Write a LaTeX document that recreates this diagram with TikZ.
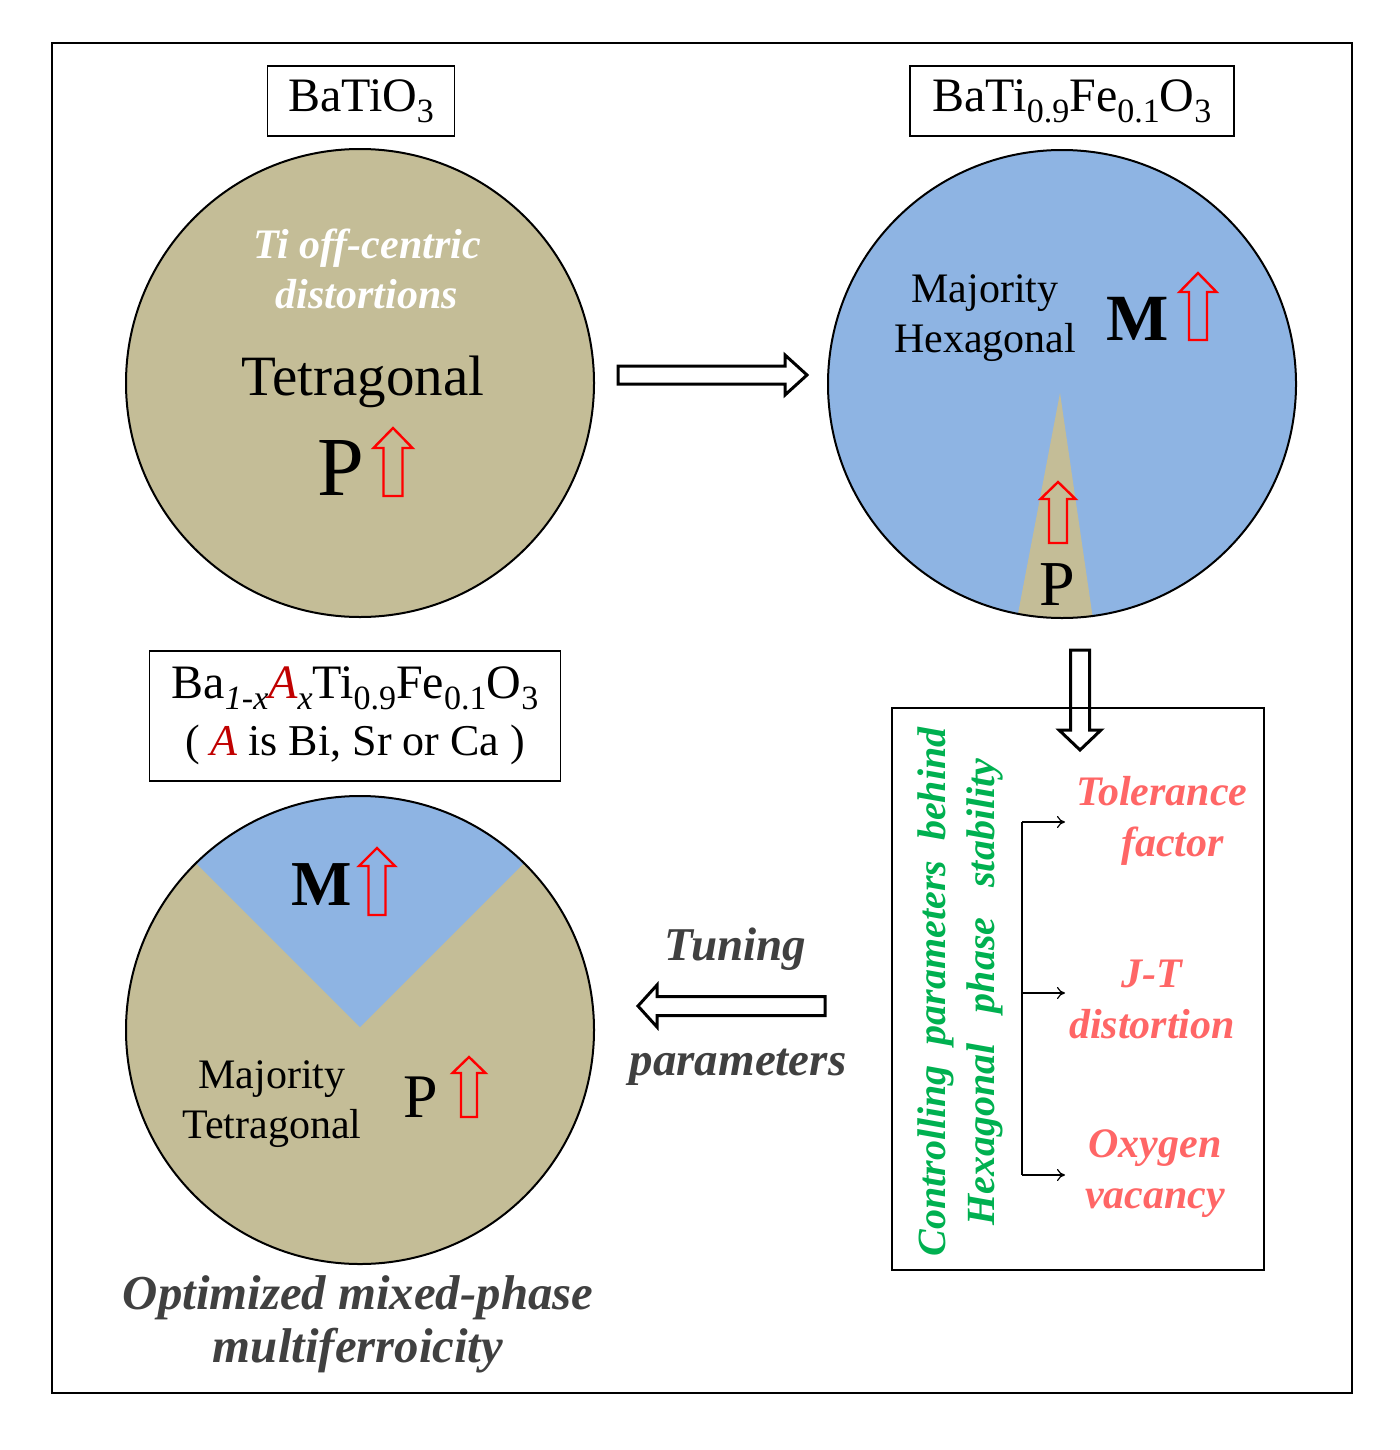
\documentclass[tikz,border=0pt]{standalone}
\usepackage{fontspec}
\setmainfont{Liberation Serif}
\usetikzlibrary{arrows.meta}

\definecolor{tanphase}{HTML}{C4BD97}
\definecolor{hexblue}{HTML}{8EB4E3}
\definecolor{ctrlgreen}{HTML}{00B050}
\definecolor{factpink}{HTML}{FF6666}
\definecolor{tunegray}{HTML}{404040}
\definecolor{siteA}{HTML}{C00000}
\newcommand\fsz[2]{\fontsize{#1}{#2}\selectfont}
\newcommand\chemsub[1]{\raisebox{-5.5pt}{\fsz{17}{17}#1}}

\begin{document}
\begin{tikzpicture}[
    x=0.5pt, y=-0.5pt,
    phase/.style={circle, minimum size=234pt, inner sep=0pt},
    ring/.style={line width=1pt},
    labelbox/.style={draw, line width=0.7pt, inner sep=0pt, align=center},
    dipole/.style={red, line width=1.2pt},
    block/.style={line width=1.5pt, fill=white},
    brk/.style={line width=0.6pt, -{To[length=4pt, width=6pt]}},
    pics/hollow/.style n args={4}{code={
        \draw[pic actions] (0,-#4) -- ({#1-#2},-#4) -- ({#1-#2},-#3) -- (#1,0)
            -- ({#1-#2},#3) -- ({#1-#2},#4) -- (0,#4) -- cycle;}},
]
\useasboundingbox (0,0) rectangle (1400,1450);
\node[draw, line width=1pt, minimum width=650pt, minimum height=675pt] (frame) at (702,718) {};

% BaTiO3
\node[phase, fill=tanphase, draw, ring] (bto) at (360,383) {};
\node[labelbox, minimum width=93.5pt, minimum height=35pt, font=\fsz{24}{29}] (lblBTO) at (361,101) {BaTiO\chemsub{3}};
\node[font=\fsz{21}{25}\bfseries\itshape, text=white, align=center] (offc) at (367,269) {Ti off-centric\\distortions};
\node[font=\fsz{28.5}{34}, anchor=base] (tetra) at (363,395) {Tetragonal};
\node[font=\fsz{42}{50}, anchor=base] (pol1) at (341,495) {P};
\pic[dipole, rotate=90] at (393,496) {hollow={68}{20}{19.5}{9.5}};

% BaTi0.9Fe0.1O3
\node[phase, fill=hexblue] (btfo) at (1062,384) {};
\begin{scope}
  \clip (btfo.center) circle[radius=117pt];
  \fill[tanphase] (1060,393) -- (1013,640) -- (1096,640) -- cycle;
\end{scope}
\draw[ring] (btfo.center) circle[radius=117pt];
\node[labelbox, minimum width=162pt, minimum height=35pt, font=\fsz{24}{29}] (lblBTFO) at (1072,101)
    {BaTi\chemsub{0.9}Fe\chemsub{0.1}O\chemsub{3}};
\node[font=\fsz{21}{25}, align=center] (majhex) at (985,318) {Majority\\Hexagonal};
\node[font=\fsz{33}{40}\bfseries, anchor=base] (mag2) at (1138,340) {M};
\pic[dipole, rotate=90] at (1198,340) {hollow={67}{19}{18.5}{9}};
\node[font=\fsz{32}{38}, anchor=base] (pol2) at (1057,605) {P};
\pic[dipole, rotate=90] at (1058,543) {hollow={61}{17}{17.5}{9}};

% doped compound
\node[phase, fill=tanphase] (doped) at (360,1030) {};
\begin{scope}
  \clip (doped.center) circle[radius=117pt];
  \fill[hexblue] (360,1027) -- (40,707) -- (680,707) -- cycle;
\end{scope}
\draw[ring] (doped.center) circle[radius=117pt];
\node[labelbox, minimum width=205.5pt, minimum height=65pt, font=\fsz{24}{28.5}] (lblDoped) at (355,716)
    {Ba\chemsub{\itshape 1-x}\textcolor{siteA}{\itshape A}\chemsub{\itshape x}Ti\chemsub{0.9}Fe\chemsub{0.1}O\chemsub{3}\\
     {\fsz{22}{28.5}( \textcolor{siteA}{\itshape A} is Bi, Sr or Ca )}};
\node[font=\fsz{32}{38}\bfseries, anchor=base] (mag3) at (322,905) {M};
\pic[dipole, rotate=90] at (377,915) {hollow={67}{18}{18}{8.5}};
\node[font=\fsz{21}{25}, align=center] (majtet) at (272,1104) {Majority\\Tetragonal};
\node[font=\fsz{31}{37}, anchor=base] (pol3) at (421,1117) {P};
\pic[dipole, rotate=90] at (469,1117) {hollow={60}{16}{16.5}{8}};
\node[font=\fsz{24.4}{26.5}\bfseries\itshape, text=tunegray, align=center] (optim) at (358,1324)
    {Optimized mixed-phase\\multiferroicity};

% block arrows
\pic[block] at (618,375) {hollow={189}{22}{20}{9}};
\pic[block, rotate=-90] at (1080,650) {hollow={100}{20}{21}{9.5}};
\pic[block, rotate=180] at (825,1006) {hollow={187}{19}{21}{9.5}};
\node[font=\fsz{23.5}{28}\bfseries\itshape, text=tunegray, anchor=base] (tune) at (735,960) {Tuning};
\node[font=\fsz{23.5}{28}\bfseries\itshape, text=tunegray, anchor=base] (tunepar) at (738,1075) {parameters};

% controlling parameters
\node[draw, line width=1pt, minimum width=186pt, minimum height=281pt] (factors) at (1078,989) {};
\node[font=\fsz{20}{24.5}\bfseries\itshape, text=ctrlgreen, align=center, rotate=90] (ctrl) at (960,992)
    {Controlling~~parameters~~behind\\Hexagonal~~~phase~~~stability};
\node[font=\fsz{21}{25.5}\bfseries\itshape, text=factpink, align=center] (tol) at (1162,821) {Tolerance\\\ \ factor};
\node[font=\fsz{21}{25.5}\bfseries\itshape, text=factpink, align=center] (jt) at (1152,999) {J-T\\distortion};
\node[font=\fsz{21}{25.5}\bfseries\itshape, text=factpink, align=center] (oxy) at (1155,1174) {Oxygen\\vacancy};
\coordinate (spineTop) at (1022,822);
\coordinate (spineMid) at (1022,993);
\coordinate (spineBot) at (1022,1175);
\coordinate (tipTol) at (1065,822);
\coordinate (tipJT) at (1065,993);
\coordinate (tipOx) at (1065,1175);
\draw[line width=0.6pt] (spineTop) -- (spineBot);
\foreach \s/\t in {spineTop/tipTol, spineMid/tipJT, spineBot/tipOx}
  \draw[brk] (\s) -- (\t);
\end{tikzpicture}
\end{document}
